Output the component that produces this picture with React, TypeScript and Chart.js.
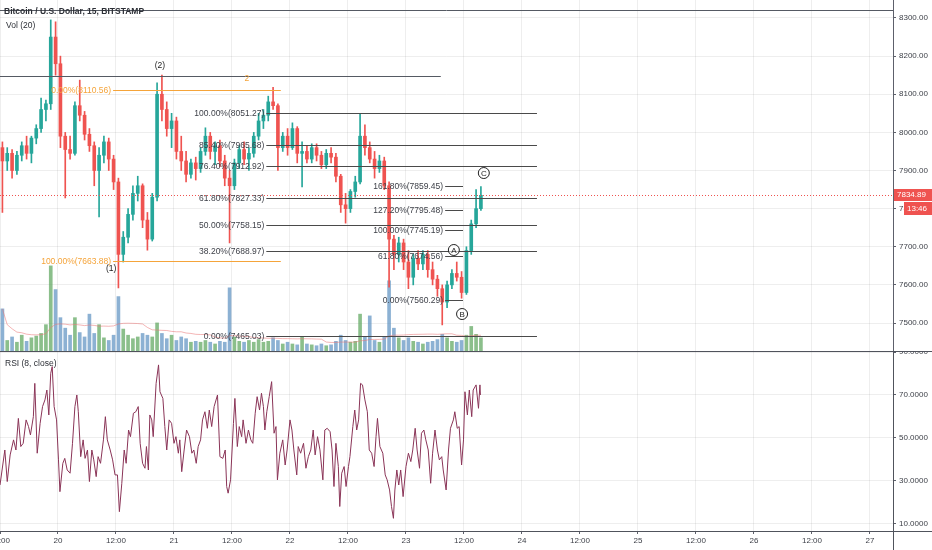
import React, { useEffect, useRef } from 'react';
import { Chart, registerables } from 'chart.js';

Chart.register(...registerables);

// ---------- DATA ----------
// hourly candles, hour index from 19th 12:00
const opens = [
  7960, 7925, 7945, 7900, 7940, 7965, 7945, 7985, 8010, 8060,
  8075, 8250, 8180, 7990, 7955, 7945, 8070, 8045, 7995, 7965,
  7900, 7940, 7975, 7930, 7870, 7680, 7725, 7785, 7840, 7860,
  7770, 7720, 7830, 8100, 8060, 8010, 8030, 7950, 7925, 7890,
  7920, 7905, 7950, 7990, 7950, 7965, 7925, 7880, 7860, 7920,
  7955, 7930, 7945, 7990, 8030, 8045, 8080, 8070, 7960, 7990,
  7960, 8010, 7945, 7950, 7930, 7960, 7940, 7915, 7945, 7935,
  7885, 7810, 7800, 7845, 7870, 7990, 7960, 7930, 7905, 7925,
  7860, 7720, 7680, 7710, 7660, 7620, 7670, 7655, 7680, 7640,
  7615, 7590, 7555, 7600, 7630, 7620, 7580, 7690, 7760, 7800,
];
const highs = [
  7975, 7960, 7955, 7950, 7975, 7990, 7990, 8020, 8090, 8085,
  8295, 8290, 8200, 8000, 7990, 8080, 8137, 8055, 8010, 7975,
  7960, 7990, 7985, 7940, 7880, 7740, 7800, 7860, 7885, 7865,
  7790, 7840, 8130, 8150, 8080, 8050, 8040, 7990, 7950, 7930,
  7935, 7960, 8012, 8000, 7975, 7980, 7940, 7900, 7930, 7965,
  7975, 7960, 8000, 8050, 8060, 8095, 8118, 8075, 8000, 8010,
  8025, 8015, 7975, 7965, 7970, 7970, 7950, 7955, 7960, 7945,
  7890, 7840, 7850, 7885, 8050, 8020, 7975, 7950, 7940, 7935,
  7870, 7730, 7725, 7720, 7690, 7680, 7690, 7690, 7690, 7660,
  7625, 7600, 7610, 7640, 7660, 7635, 7700, 7770, 7850, 7858,
];
const lows = [
  7790, 7900, 7880, 7890, 7925, 7930, 7920, 7970, 8000, 8030,
  8060, 8150, 7960, 7828, 7930, 7940, 8030, 7980, 7950, 7860,
  7778, 7920, 7900, 7850, 7592, 7660, 7710, 7770, 7820, 7750,
  7691, 7715, 7820, 8030, 7990, 7960, 7930, 7900, 7870, 7880,
  7875, 7895, 7940, 7930, 7915, 7910, 7860, 7710, 7850, 7905,
  7915, 7900, 7935, 7980, 8010, 8030, 8060, 7900, 7950, 7940,
  7955, 7920, 7857, 7920, 7920, 7925, 7905, 7905, 7920, 7870,
  7790, 7762, 7790, 7830, 7865, 7940, 7920, 7880, 7895, 7850,
  7594, 7640, 7660, 7640, 7590, 7600, 7640, 7640, 7620, 7600,
  7570, 7495, 7540, 7590, 7610, 7565, 7575, 7680, 7750, 7795,
];
const closes = [
  7925, 7945, 7900, 7940, 7965, 7945, 7985, 8010, 8060, 8075,
  8250, 8180, 7990, 7955, 7945, 8070, 8045, 7995, 7965, 7900,
  7940, 7975, 7930, 7870, 7680, 7725, 7785, 7840, 7860, 7770,
  7720, 7830, 8100, 8060, 8010, 8030, 7950, 7925, 7890, 7920,
  7905, 7950, 7990, 7950, 7965, 7925, 7880, 7860, 7920, 7955,
  7930, 7945, 7990, 8030, 8045, 8080, 8070, 7960, 7990, 7960,
  8010, 7945, 7950, 7930, 7960, 7940, 7915, 7945, 7935, 7885,
  7810, 7800, 7845, 7870, 7990, 7960, 7930, 7905, 7925, 7860,
  7720, 7680, 7710, 7660, 7620, 7670, 7655, 7680, 7640, 7615,
  7590, 7555, 7600, 7630, 7620, 7580, 7690, 7760, 7800, 7834.89,
];
const volumes = [
  480, 120, 160, 100, 180, 110, 150, 170, 200, 300,
  970, 700, 380, 260, 180, 380, 210, 160, 420, 200,
  300, 150, 120, 180, 620, 250, 180, 140, 160, 200,
  180, 160, 320, 200, 140, 180, 120, 160, 140, 100,
  110, 100, 120, 100, 80, 110, 100, 720, 160, 110,
  100, 120, 100, 130, 100, 110, 150, 120, 80, 100,
  80, 70, 160, 80, 70, 60, 80, 60, 70, 110,
  180, 120, 100, 110, 420, 160, 400, 120, 100, 160,
  800, 260, 150, 120, 150, 110, 100, 80, 100, 110,
  130, 190, 150, 110, 100, 120, 180, 280, 190, 150,
];
const volMaLength = 20;

const rsiHours = [
  0.0, 1.0, 1.5, 2.1, 2.8, 3.3, 3.8, 4.3, 4.8, 5.4,
  5.9, 6.3, 6.9, 7.2, 7.7, 8.3, 8.8, 9.3, 9.7, 10.1,
  10.5, 10.8, 11.2, 11.7, 12.1, 12.4, 13.0, 13.4, 13.9, 14.5,
  15.0, 15.5, 15.9, 16.2, 16.7, 17.2, 17.6, 18.1, 18.5, 19.0,
  19.4, 19.9, 20.3, 20.8, 21.4, 21.8, 22.2, 22.8, 23.3, 23.8,
  24.3, 24.7, 25.2, 25.7, 26.1, 26.6, 27.0, 27.6, 28.1, 28.6,
  29.0, 29.5, 30.0, 30.3, 30.7, 31.0, 31.4, 31.7, 32.3, 32.8,
  33.1, 33.7, 34.1, 34.5, 35.0, 35.5, 36.0, 36.4, 36.9, 37.2,
  37.6, 38.1, 38.6, 39.2, 39.7, 40.1, 40.6, 41.0, 41.5, 41.9,
  42.4, 42.9, 43.3, 43.8, 44.3, 45.0, 45.5, 46.1, 46.6, 46.9,
  47.2, 47.7, 48.3, 48.6, 49.1, 49.5, 50.0, 50.3, 50.9, 51.4,
  51.9, 52.3, 52.8, 53.2, 53.7, 54.1, 54.5, 54.8, 55.2, 55.7,
  56.2, 56.7, 57.1, 57.4, 57.9, 58.5, 59.0, 59.4, 60.0, 60.4,
  60.8, 61.4, 61.7, 62.2, 62.8, 63.3, 63.8, 64.3, 64.8, 65.2,
  65.7, 66.2, 66.8, 67.2, 67.7, 68.3, 68.7, 69.1, 69.5, 70.0,
  70.3, 70.7, 71.2, 71.6, 72.1, 72.4, 73.0, 73.4, 73.8, 74.2,
  74.6, 75.0, 75.5, 76.0, 76.4, 76.9, 77.4, 77.8, 78.1, 78.6,
  79.2, 79.7, 80.1, 80.6, 81.0, 81.4, 81.7, 82.1, 82.5, 82.9,
  83.4, 84.0, 84.5, 85.0, 85.4, 85.9, 86.3, 86.8, 87.2, 87.7,
  88.1, 88.6, 89.1, 89.5, 90.0, 90.5, 90.9, 91.4, 91.7, 92.3,
  92.8, 93.2, 93.8, 94.1, 94.6, 95.0, 95.5, 95.9, 96.2, 96.7,
  97.1, 97.6, 97.9, 98.5, 99.0, 99.3, 99.4,
];
const rsiValues = [
  28.1, 44.4, 29.7, 42.1, 49.1, 44.4, 59.1, 46.0, 47.5, 58.4,
  55.3, 51.4, 59.9, 75.4, 42.9, 56.8, 64.6, 67.7, 72.3, 60.7,
  80.1, 83.2, 64.6, 58.4, 39.8, 25.0, 38.2, 40.5, 35.1, 33.6,
  47.5, 64.6, 70.0, 62.2, 41.3, 49.1, 40.5, 44.4, 29.7, 44.4,
  39.8, 32.0, 41.3, 38.2, 49.1, 59.9, 49.1, 44.4, 39.8, 32.8,
  32.8, 15.7, 28.9, 44.4, 38.2, 53.7, 50.6, 61.5, 62.2, 64.6,
  47.5, 38.2, 35.9, 46.0, 35.1, 60.7, 58.4, 50.6, 75.4, 84.0,
  71.5, 68.4, 55.3, 44.4, 58.4, 56.8, 47.5, 50.6, 42.9, 49.1,
  34.3, 44.4, 53.7, 50.6, 42.9, 44.4, 38.2, 46.0, 49.1, 58.4,
  62.2, 54.5, 63.0, 55.3, 64.6, 70.0, 41.3, 40.5, 44.4, 27.4,
  24.3, 30.5, 56.8, 68.4, 46.0, 55.3, 50.6, 58.4, 47.5, 53.7,
  49.1, 47.5, 61.5, 69.2, 63.0, 70.8, 64.6, 53.7, 62.2, 69.2,
  76.2, 52.2, 55.3, 30.5, 42.9, 49.1, 37.4, 44.4, 58.4, 53.7,
  44.4, 32.8, 46.0, 42.9, 47.5, 35.9, 41.3, 44.4, 53.7, 42.1,
  50.6, 44.4, 30.5, 53.7, 54.5, 52.9, 44.4, 27.4, 47.5, 36.7,
  18.1, 33.6, 36.7, 27.4, 36.7, 41.3, 55.3, 63.0, 53.7, 58.4,
  75.4, 74.7, 67.7, 62.2, 44.4, 42.9, 36.7, 50.6, 59.1, 46.0,
  42.9, 32.8, 30.5, 25.8, 18.1, 12.6, 25.8, 35.1, 28.1, 35.1,
  22.7, 36.7, 42.9, 39.0, 44.4, 54.5, 44.4, 35.9, 52.2, 53.7,
  49.1, 44.4, 28.9, 42.9, 53.7, 44.4, 39.8, 41.3, 35.1, 25.8,
  44.4, 54.5, 58.4, 62.2, 54.5, 55.3, 37.4, 49.1, 71.5, 60.7,
  72.3, 59.9, 72.3, 74.7, 63.8, 74.7, 70.0,
];

const timeTicks = [0, 12, 24, 36, 48, 60, 72, 84, 96, 108, 120, 132, 144, 156, 168, 180];
const timeTickLabels = ['12:00', '20', '12:00', '21', '12:00', '22', '12:00', '23', '12:00', '24', '12:00', '25', '12:00', '26', '12:00', '27'];
const priceTicks = [7500, 7600, 7700, 7800, 7900, 8000, 8100, 8200, 8300];
const rsiTicks = [10, 30, 50, 70, 90];

const timeMin = 0;
const timeMax = 184.76;
const priceMin = 7426.6;
const priceMax = 8347.2;
const rsiMin = 6.7;
const rsiMax = 90;
const volMax = 4000;

const lastPrice = 7834.89;
const countdown = '13:46';

// drawn horizontal lines: price, start hour, end hour
const hLinePrices = [8321, 8147.9];
const hLineStarts = [0, 0];
const hLineEnds = [184.76, 91.2];

const fibOrangeLabels = ['0.00%', '100.00%'];
const fibOrangePrices = [8110.56, 7663.88];
const fibOrangeSpan = [23.4, 58.1];
const fibOrangeMark = { text: '2', hour: 51.1, price: 8140 };

const fibRetraceLabels = ['100.00%', '85.40%', '76.40%', '61.80%', '50.00%', '38.20%', '0.00%'];
const fibRetracePrices = [8051.27, 7965.68, 7912.92, 7827.33, 7758.15, 7688.97, 7465.03];
const fibRetraceSpan = [55.1, 111.1];

const fibExtLabels = ['161.80%', '127.20%', '100.00%', '61.80%', '0.00%'];
const fibExtPrices = [7859.45, 7795.48, 7745.19, 7674.56, 7560.29];
const fibExtSpan = [92.1, 95.8];

const waveLabels = ['(1)', '(2)'];
const waveHours = [23.0, 33.1];
const wavePrices = [7641.7, 8174];
const circleLabels = ['A', 'B', 'C'];
const circleHours = [93.9, 95.6, 100.1];
const circlePrices = [7691.5, 7523.6, 7893.4];

// ---------- STYLE ----------
const FONT = '"Liberation Sans", Arial, sans-serif';
const UP = '#26a69a';
const DOWN = '#ef5350';
const GRID = 'rgba(0,0,0,0.065)';
const AXIS = '#5d606b';
const TEXT = '#3c3f47';
const ORANGE = '#f5a43a';
const FIBLINE = '#4a4a4a';

const candleHours = closes.map((_, i) => i + 0.5);
const upFlags = closes.map((c, i) => c >= opens[i]);
const volMa = volumes.map((_, i) => {
  const from = Math.max(0, i - volMaLength + 1);
  const slice = volumes.slice(from, i + 1);
  return slice.reduce((a, b) => a + b, 0) / slice.length;
});

function crisp(v: number) {
  return Math.round(v) + 0.5;
}

const topOverlay = {
  id: 'topOverlay',
  afterDatasetsDraw(chart: any) {
    const { ctx, chartArea, scales } = chart;
    const X = (t: number) => scales.x.getPixelForValue(t);
    const Y = (p: number) => scales.y.getPixelForValue(p);
    ctx.save();
    ctx.beginPath();
    ctx.rect(chartArea.left, chartArea.top, chartArea.right - chartArea.left, chartArea.bottom - chartArea.top);
    ctx.clip();

    // current price dotted line
    ctx.strokeStyle = DOWN;
    ctx.lineWidth = 1;
    ctx.setLineDash([1, 2]);
    ctx.beginPath();
    ctx.moveTo(chartArea.left, crisp(Y(lastPrice)));
    ctx.lineTo(chartArea.right, crisp(Y(lastPrice)));
    ctx.stroke();
    ctx.setLineDash([]);

    // drawn horizontal lines
    ctx.strokeStyle = '#555a63';
    hLinePrices.forEach((p, i) => {
      ctx.beginPath();
      ctx.moveTo(X(hLineStarts[i]), crisp(Y(p)));
      ctx.lineTo(X(hLineEnds[i]), crisp(Y(p)));
      ctx.stroke();
    });

    ctx.textBaseline = 'middle';
    ctx.font = `8.5px ${FONT}`;

    // orange fib
    ctx.strokeStyle = ORANGE;
    ctx.fillStyle = ORANGE;
    ctx.textAlign = 'right';
    fibOrangePrices.forEach((p, i) => {
      const y = crisp(Y(p));
      ctx.beginPath();
      ctx.moveTo(X(fibOrangeSpan[0]), y);
      ctx.lineTo(X(fibOrangeSpan[1]), y);
      ctx.stroke();
      ctx.fillText(`${fibOrangeLabels[i]}(${p.toFixed(2)})`, X(fibOrangeSpan[0]) - 2, y);
    });
    ctx.textAlign = 'center';
    ctx.fillText(fibOrangeMark.text, X(fibOrangeMark.hour), Y(fibOrangeMark.price));

    // retracement fib
    ctx.strokeStyle = FIBLINE;
    ctx.fillStyle = TEXT;
    ctx.textAlign = 'right';
    fibRetracePrices.forEach((p, i) => {
      const y = crisp(Y(p));
      ctx.beginPath();
      ctx.moveTo(X(fibRetraceSpan[0]), y);
      ctx.lineTo(X(fibRetraceSpan[1]), y);
      ctx.stroke();
      ctx.fillText(`${fibRetraceLabels[i]}(${p.toFixed(2)})`, X(fibRetraceSpan[0]) - 2, y);
    });

    // extension fib
    fibExtPrices.forEach((p, i) => {
      const y = crisp(Y(p));
      ctx.beginPath();
      ctx.moveTo(X(fibExtSpan[0]), y);
      ctx.lineTo(X(fibExtSpan[1]), y);
      ctx.stroke();
      ctx.fillText(`${fibExtLabels[i]}(${p.toFixed(2)})`, X(fibExtSpan[0]) - 2, y);
    });

    // wave labels
    ctx.textAlign = 'center';
    ctx.fillStyle = '#222';
    waveLabels.forEach((l, i) => {
      ctx.fillText(l, X(waveHours[i]), Y(wavePrices[i]));
    });
    ctx.strokeStyle = '#222';
    circleLabels.forEach((l, i) => {
      const x = X(circleHours[i]);
      const y = Y(circlePrices[i]);
      ctx.beginPath();
      ctx.arc(x, y, 5.5, 0, Math.PI * 2);
      ctx.fillStyle = 'rgba(255,255,255,0.6)';
      ctx.fill();
      ctx.stroke();
      ctx.fillStyle = '#222';
      ctx.font = `8px ${FONT}`;
      ctx.fillText(l, x, y + 0.5);
    });
    ctx.restore();
  },
  afterDraw(chart: any) {
    const { ctx, chartArea, scales, width, height } = chart;
    const Y = (p: number) => scales.y.getPixelForValue(p);
    ctx.save();
    ctx.textBaseline = 'middle';
    ctx.textAlign = 'left';
    ctx.fillStyle = '#2c2f36';
    ctx.font = `bold 8.5px ${FONT}`;
    ctx.fillText('Bitcoin / U.S. Dollar, 15, BITSTAMP', 4, 12);
    ctx.font = `8.5px ${FONT}`;
    ctx.fillText('Vol (20)', 6, 26);

    // price boxes
    const yp = Math.round(Y(lastPrice));
    ctx.fillStyle = DOWN;
    ctx.fillRect(chartArea.right + 1, yp - 6, width - chartArea.right - 1, 12);
    ctx.fillRect(chartArea.right + 11, yp + 7, width - chartArea.right - 11, 13);
    ctx.fillStyle = '#fff';
    ctx.font = `8px ${FONT}`;
    ctx.fillText(lastPrice.toFixed(2), chartArea.right + 4, yp);
    ctx.fillText(countdown, chartArea.right + 14, yp + 13.5);

    // pane divider
    ctx.strokeStyle = '#50535c';
    ctx.lineWidth = 1;
    ctx.beginPath();
    ctx.moveTo(0, height - 0.5);
    ctx.lineTo(width, height - 0.5);
    ctx.stroke();
    ctx.restore();
  },
};

const bottomOverlay = {
  id: 'bottomOverlay',
  afterDraw(chart: any) {
    const { ctx, chartArea, width, height } = chart;
    ctx.save();
    ctx.strokeStyle = '#50535c';
    ctx.lineWidth = 1;
    ctx.beginPath();
    ctx.moveTo(0, crisp(chartArea.bottom));
    ctx.lineTo(width, crisp(chartArea.bottom));
    ctx.moveTo(crisp(chartArea.right), 0);
    ctx.lineTo(crisp(chartArea.right), height);
    ctx.stroke();
    ctx.fillStyle = '#2c2f36';
    ctx.font = `8.5px ${FONT}`;
    ctx.textBaseline = 'middle';
    ctx.textAlign = 'left';
    ctx.fillText('RSI (8, close)', 5, 12);
    ctx.restore();
  },
};

function timeAxis(showLabels: boolean) {
  return {
    type: 'linear',
    min: timeMin,
    max: timeMax,
    offset: false,
    afterBuildTicks: (s: any) => {
      s.ticks = timeTicks.map((v) => ({ value: v }));
    },
    afterFit: (s: any) => {
      s.height = showLabels ? 19 : 0;
      s.paddingLeft = 0;
      s.paddingRight = 0;
    },
    grid: {
      color: GRID,
      offset: false,
      drawTicks: showLabels,
      tickLength: 3,
      tickColor: AXIS,
    },
    border: { display: false },
    ticks: {
      display: showLabels,
      autoSkip: false,
      maxRotation: 0,
      padding: 2,
      color: TEXT,
      font: { size: 8, family: FONT },
      callback: (v: any) => {
        const i = timeTicks.indexOf(Number(v));
        return i >= 0 ? timeTickLabels[i] : '';
      },
    },
  };
}

export default function App() {
  const topRef = useRef<HTMLCanvasElement>(null);
  const botRef = useRef<HTMLCanvasElement>(null);

  useEffect(() => {
    document.body.style.margin = '0';
    const top = new Chart(topRef.current as HTMLCanvasElement, {
      type: 'bar',
      data: {
        datasets: [
          {
            type: 'bar',
            label: 'bodies',
            data: candleHours.map((t, i) => ({ x: t, y: [opens[i], closes[i]] })) as any,
            backgroundColor: upFlags.map((u) => (u ? UP : DOWN)),
            barThickness: 3,
            minBarLength: 1,
            grouped: false,
            yAxisID: 'y',
            order: 0,
          },
          {
            type: 'bar',
            label: 'wicks',
            data: candleHours.map((t, i) => ({ x: t, y: [lows[i], highs[i]] })) as any,
            backgroundColor: upFlags.map((u) => (u ? UP : DOWN)),
            barThickness: 1,
            grouped: false,
            yAxisID: 'y',
            order: 1,
          },
          {
            type: 'line',
            label: 'volMA',
            data: candleHours.map((t, i) => ({ x: t, y: volMa[i] })) as any,
            borderColor: 'rgba(233,120,120,0.55)',
            borderWidth: 1,
            pointRadius: 0,
            tension: 0,
            yAxisID: 'vol',
            order: 2,
          },
          {
            type: 'bar',
            label: 'volume',
            data: candleHours.map((t, i) => ({ x: t, y: volumes[i] })) as any,
            backgroundColor: upFlags.map((u) => (u ? 'rgba(84,160,84,0.68)' : 'rgba(86,140,190,0.68)')),
            barThickness: 3,
            grouped: false,
            yAxisID: 'vol',
            order: 3,
          },
        ],
      },
      options: {
        responsive: false,
        maintainAspectRatio: false,
        animation: false,
        devicePixelRatio: 1,
        layout: { padding: { left: 0, right: 0, top: 0, bottom: 1 }, autoPadding: false },
        plugins: { legend: { display: false }, tooltip: { enabled: false } },
        scales: {
          x: timeAxis(false) as any,
          y: {
            type: 'linear',
            position: 'right',
            min: priceMin,
            max: priceMax,
            afterBuildTicks: (s: any) => {
              s.ticks = priceTicks.map((v) => ({ value: v }));
            },
            afterFit: (s: any) => {
              s.width = 39;
              s.paddingTop = 0;
              s.paddingBottom = 0;
            },
            grid: { color: GRID, tickLength: 3, tickColor: AXIS },
            border: { color: AXIS, width: 1 },
            ticks: {
              autoSkip: false,
              padding: 3,
              color: TEXT,
              font: { size: 8, family: FONT },
              callback: (v: any) => Number(v).toFixed(2),
            },
          },
          vol: { type: 'linear', display: false, min: 0, max: volMax },
        },
      },
      plugins: [topOverlay],
    });

    const bottom = new Chart(botRef.current as HTMLCanvasElement, {
      type: 'line',
      data: {
        datasets: [
          {
            label: 'RSI',
            data: rsiHours.map((t, i) => ({ x: t, y: rsiValues[i] })) as any,
            borderColor: '#8a3457',
            borderWidth: 1,
            pointRadius: 0,
            tension: 0,
          },
        ],
      },
      options: {
        responsive: false,
        maintainAspectRatio: false,
        animation: false,
        devicePixelRatio: 1,
        layout: { padding: 0, autoPadding: false },
        plugins: { legend: { display: false }, tooltip: { enabled: false } },
        scales: {
          x: timeAxis(true) as any,
          y: {
            type: 'linear',
            position: 'right',
            min: rsiMin,
            max: rsiMax,
            afterBuildTicks: (s: any) => {
              s.ticks = rsiTicks.map((v) => ({ value: v }));
            },
            afterFit: (s: any) => {
              s.width = 39;
              s.paddingTop = 0;
              s.paddingBottom = 0;
            },
            grid: { color: GRID, tickLength: 3, tickColor: AXIS },
            border: { color: AXIS, width: 1 },
            ticks: {
              autoSkip: false,
              padding: 3,
              color: TEXT,
              font: { size: 8, family: FONT },
              callback: (v: any) => Number(v).toFixed(4),
            },
          },
        },
      },
      plugins: [bottomOverlay],
    });

    return () => {
      top.destroy();
      bottom.destroy();
    };
  }, []);

  return (
    <div style={{ position: 'relative', width: 932, height: 550, background: '#ffffff', overflow: 'hidden' }}>
      <canvas ref={topRef} width={932} height={352} style={{ position: 'absolute', left: 0, top: 0 }} />
      <canvas ref={botRef} width={932} height={198} style={{ position: 'absolute', left: 0, top: 352 }} />
    </div>
  );
}
